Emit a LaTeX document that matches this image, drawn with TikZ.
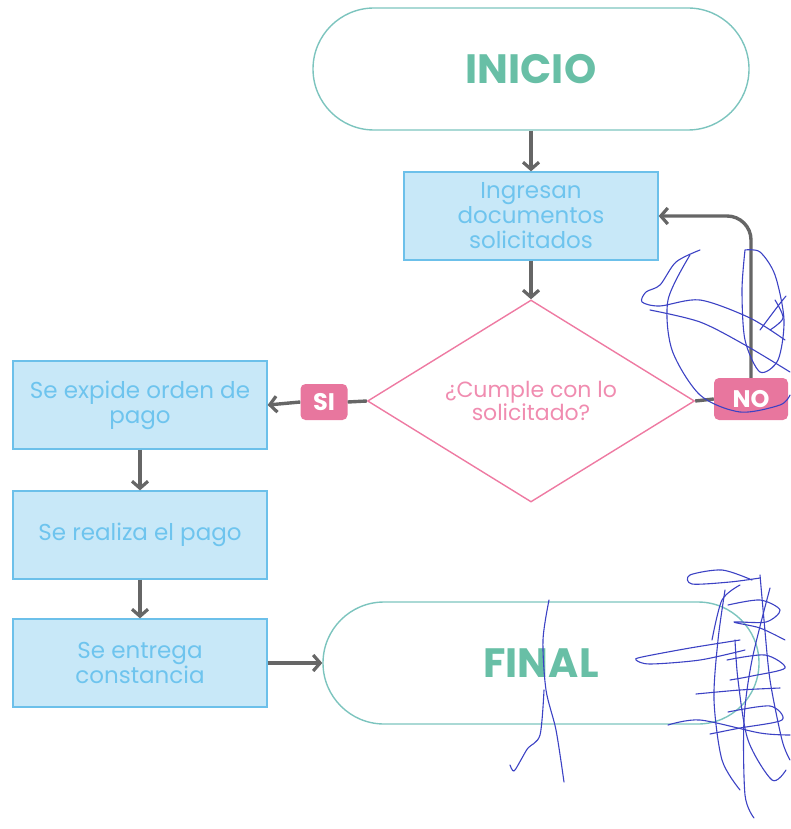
\documentclass[tikz,border=0pt]{standalone}
\usepackage{fontspec}
\setmainfont{Poppins}
\usetikzlibrary{arrows.meta,shapes.geometric,calc}
\definecolor{boxfill}{HTML}{C8E8F8}
\definecolor{boxline}{HTML}{6CC0EA}
\definecolor{boxtext}{HTML}{6EC4EE}
\definecolor{pinkline}{HTML}{EE7AA2}
\definecolor{pinktext}{HTML}{F08CB0}
\definecolor{tagfill}{HTML}{E8769E}
\definecolor{termline}{HTML}{7CC4BE}
\definecolor{termtext}{HTML}{68BFA6}
\definecolor{flow}{HTML}{666666}
\definecolor{ink}{HTML}{3C42C4}
\tikzset{
  terminal/.style={draw=termline, line width=1.4pt, rounded corners=61pt,
    minimum width=436pt, minimum height=122pt, text=termtext,
    font=\fontsize{41}{44}\selectfont\bfseries},
  stepbox/.style={draw=boxline, fill=boxfill, line width=1.3pt,
    minimum width=254pt, minimum height=88pt, text=boxtext, align=center,
    font=\fontsize{23}{25}\selectfont, inner sep=2pt},
  decision/.style={draw=pinkline, line width=1.4pt, diamond, aspect=1.62,
    minimum width=327pt, minimum height=202pt, text=pinktext, align=center,
    font=\fontsize{22}{23}\selectfont, inner sep=0pt},
  tag/.style={fill=tagfill, rounded corners=5pt, text=white,
    font=\fontsize{24}{24}\selectfont\bfseries, inner sep=0pt},
  flowline/.style={draw=flow, line width=3.4pt},
  flowarrow/.style={flowline, -{Straight Barb[length=7pt,width=16pt,line width=3.2pt]}},
  sign/.style={draw=ink, line width=1.1pt, line cap=round, line join=round}
}
\begin{document}
\begin{tikzpicture}[x=1pt,y=-1pt]
\useasboundingbox (0,0) rectangle (790,829);

% terminals
\node[terminal] (inicio) at (531,69) {INICIO};
\node[terminal] (final) at (541,663) {FINAL};

% process boxes
\node[stepbox] (ingresan) at (531,216) {Ingresan\\documentos\\solicitados};
\node[stepbox] (expide) at (140,405) {Se expide orden de\\pago};
\node[stepbox] (realiza) at (140,535) {Se realiza el pago};
\node[stepbox] (entrega) at (140,663) {Se entrega\\constancia};

% decision
\node[decision] (cumple) at (531,401) {¿Cumple con lo\\solicitado?};

% answer tags
\node[tag, minimum width=47pt, minimum height=36pt] (si) at (324,402) {SI};
\node[tag, minimum width=74pt, minimum height=42pt] (no) at (751,399) {NO};

% flow
\draw[flowarrow] (inicio.south) -- (ingresan.north);
\draw[flowarrow] (ingresan.south) -- (cumple.north);
\draw[flowline] (cumple.west) -- (si.east);
\draw[flowarrow] (si.west) -- (expide.east);
\draw[flowline] (cumple.east) -- (no.west);
\draw[flowarrow, rounded corners=24pt] (no.north) |- (ingresan.east);
\draw[flowarrow] (expide.south) -- (realiza.north);
\draw[flowarrow] (realiza.south) -- (entrega.north);
\draw[flowarrow] (entrega.east) -- (final.west);

% handwritten signature, upper right
\draw[sign] plot[smooth] coordinates {(700,250) (676,262) (660,285) (646,292) (642,302) (660,306) (700,300) (750,318) (785,340)};
\draw[sign] plot[smooth] coordinates {(690,255) (668,300) (672,350) (700,395) (740,412) (780,405) (790,395)};
\draw[sign] plot[smooth] coordinates {(745,250) (742,290) (745,340) (760,372) (778,360) (784,320) (775,275) (760,252) (745,250)};
\draw[sign] plot[smooth] coordinates {(650,310) (700,322) (745,345) (790,372)};
\draw[sign] plot[smooth] coordinates {(760,330) (778,306) (786,296)};
\draw[sign] plot[smooth] coordinates {(775,300) (783,318) (770,330)};

% handwritten signature, lower right
\draw[sign] plot[smooth] coordinates {(549,600) (543,640) (546,690) (556,730) (564,782)};
\draw[sign] plot[smooth] coordinates {(544,690) (540,735) (528,748) (522,758) (514,771) (510,765)};
\draw[sign] plot[smooth] coordinates {(740,640) (690,648) (642,657) (636,660) (650,664) (700,660) (745,650)};
\draw[sign] plot[smooth] coordinates {(752,580) (722,570) (690,575) (692,584) (730,582) (760,578)};
\draw[sign] plot[smooth] coordinates {(770,588) (752,660) (744,720) (745,795) (754,818)};
\draw[sign] plot[smooth] coordinates {(725,590) (718,640) (714,700) (722,760) (740,790)};
\draw[sign] plot[smooth] coordinates {(760,575) (764,620) (770,680) (782,740) (790,760)};
\draw[sign] plot[smooth] coordinates {(728,605) (760,600) (780,610) (766,622) (734,622) (760,628) (785,640)};
\draw[sign] plot[smooth] coordinates {(696,694) (740,690) (780,688)};
\draw[sign] plot[smooth] coordinates {(728,712) (770,706) (782,720) (740,728) (710,734)};
\draw[sign] plot[smooth] coordinates {(668,725) (700,720) (760,733) (790,735)};
\draw[sign] plot[smooth] coordinates {(727,660) (765,655) (785,668) (752,676) (730,680)};
\draw[sign] plot[smooth] coordinates {(735,640) (738,680) (748,740) (772,780) (786,770)};
\draw[sign] plot[smooth] coordinates {(712,640) (722,600) (740,585)};
\end{tikzpicture}
\end{document}
